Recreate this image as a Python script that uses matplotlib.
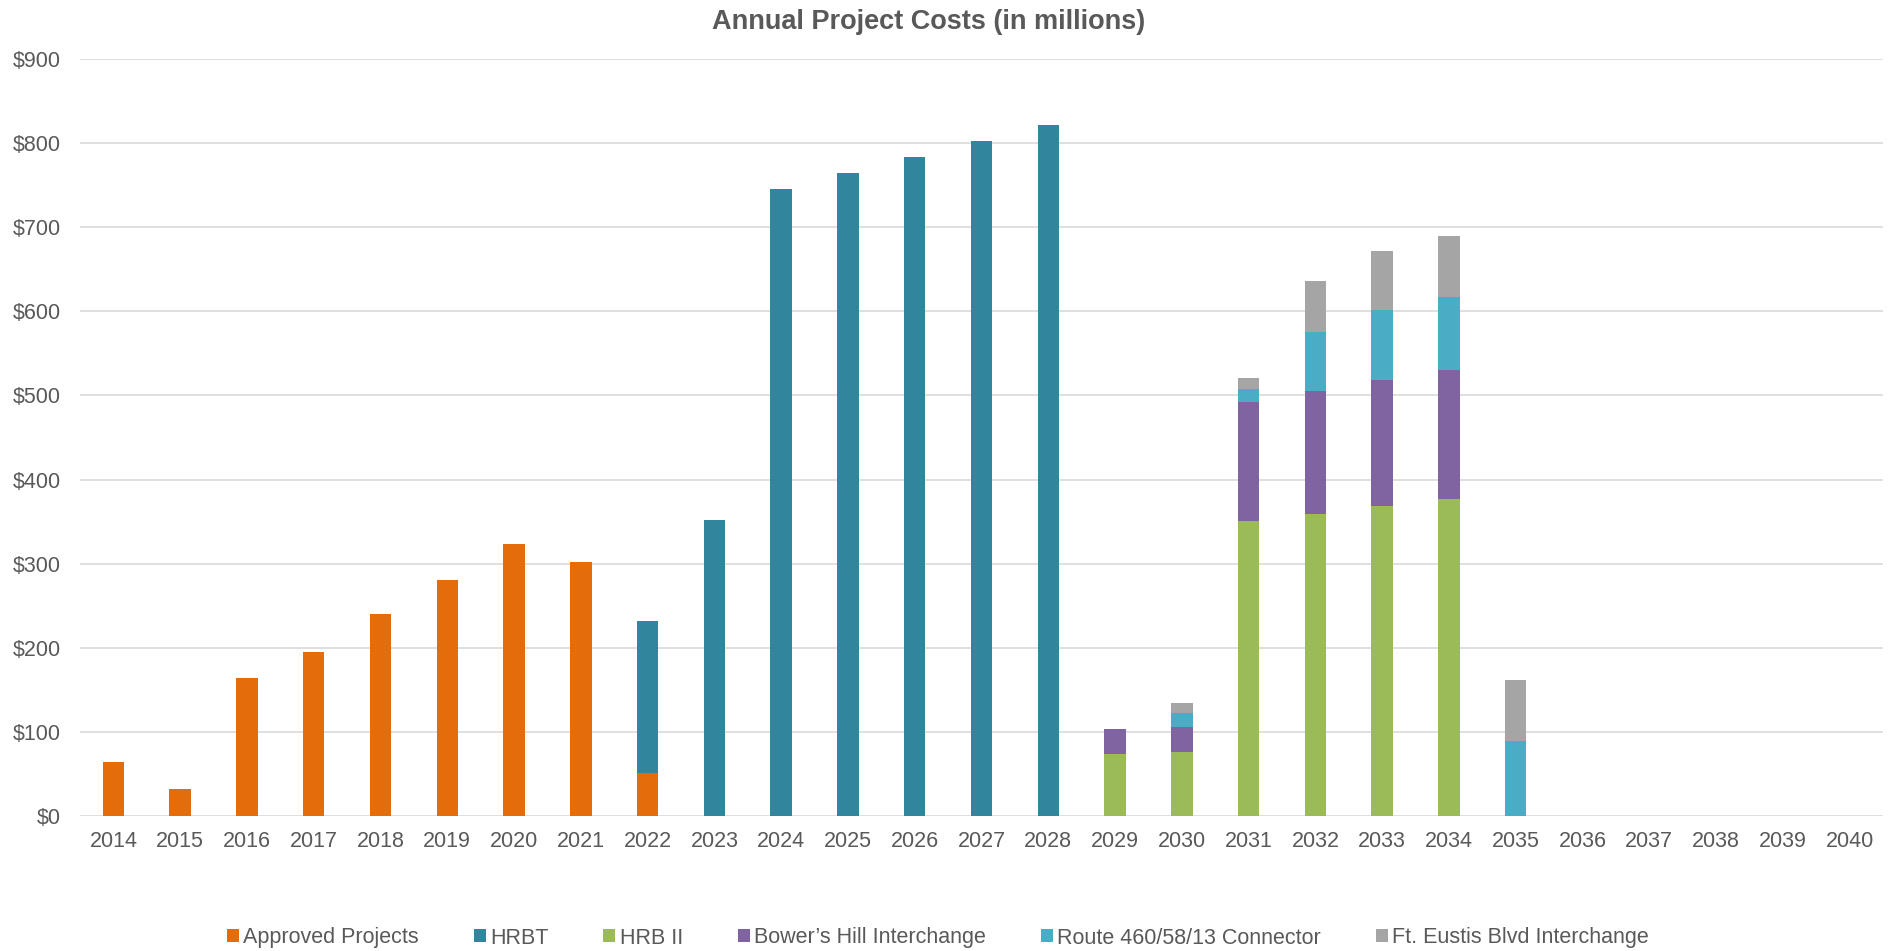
import numpy as np
import matplotlib
matplotlib.use("Agg")
import matplotlib.pyplot as plt
from matplotlib.ticker import FuncFormatter

plt.rcParams['font.family'] = ['Liberation Sans', 'DejaVu Sans']

# Annual costs by project, $ millions
years = list(range(2014, 2041))
approved = [64, 32, 164, 195, 240, 280, 323, 302, 51, 0, 0, 0, 0, 0, 0,
            0, 0, 0, 0, 0, 0, 0, 0, 0, 0, 0, 0]
hrbt = [0, 0, 0, 0, 0, 0, 0, 0, 181, 352, 746, 764, 783, 803, 822,
        0, 0, 0, 0, 0, 0, 0, 0, 0, 0, 0, 0]
hrb2 = [0] * 15 + [74, 76, 351, 359, 368, 377, 0, 0, 0, 0, 0, 0]
bowers = [0] * 15 + [29, 30, 141, 146, 150, 153, 0, 0, 0, 0, 0, 0]
route460 = [0] * 15 + [0, 16, 16, 71, 84, 87, 89, 0, 0, 0, 0, 0]
eustis = [0] * 15 + [0, 12, 13, 60, 70, 72, 73, 0, 0, 0, 0, 0]

series = [
    ("Approved Projects", approved, "#E46C0A"),
    ("HRBT", hrbt, "#31859C"),
    ("HRB II", hrb2, "#9BBB59"),
    ("Bower\u2019s Hill Interchange", bowers, "#8064A2"),
    ("Route 460/58/13 Connector", route460, "#4BACC6"),
    ("Ft. Eustis Blvd Interchange", eustis, "#A5A5A5"),
]

text_color = "#595959"
grid_color = "#D9D9D9"

fig = plt.figure(figsize=(18.95, 9.51), dpi=100)
ax = fig.add_axes([80 / 1895, 1 - 816 / 951, (1883 - 80) / 1895, (816 - 59) / 951])

x = np.arange(len(years))
bottom = np.zeros(len(years))
handles = []
for name, vals, color in series:
    vals = np.array(vals, dtype=float)
    b = ax.bar(x, vals, width=0.32, bottom=bottom, color=color, label=name,
               linewidth=0, zorder=3)
    handles.append(b)
    bottom += vals

ax.set_xlim(-0.5, len(years) - 0.5)
ax.set_ylim(0, 900)
ax.set_yticks(np.arange(0, 901, 100))
ax.yaxis.set_major_formatter(FuncFormatter(lambda v, p: f"${v:,.0f}"))
ax.set_xticks(x)
ax.set_xticklabels([str(y) for y in years])

ax.grid(axis='y', color=grid_color, linewidth=1.2, zorder=0)
for s in ax.spines.values():
    s.set_visible(False)
ax.tick_params(axis='both', length=0, labelsize=15.5, labelcolor=text_color)
ax.tick_params(axis='y', pad=14)
ax.tick_params(axis='x', pad=11)

fig.text(929 / 1895, 1 - 29 / 951, "Annual Project Costs (in millions)",
         ha='center', va='baseline', fontsize=19.5, fontweight='bold', color=text_color)

leg = fig.legend(handles=handles, loc='center', bbox_to_anchor=(938 / 1895, 1 - 938 / 951),
                 ncol=6, frameon=False, fontsize=15.5, handlelength=0.56, handleheight=0.56,
                 handletextpad=0.2, columnspacing=2.55, borderaxespad=0, borderpad=0)
for t in leg.get_texts():
    t.set_color(text_color)

fig.savefig("out.png", dpi=100, facecolor="white")
